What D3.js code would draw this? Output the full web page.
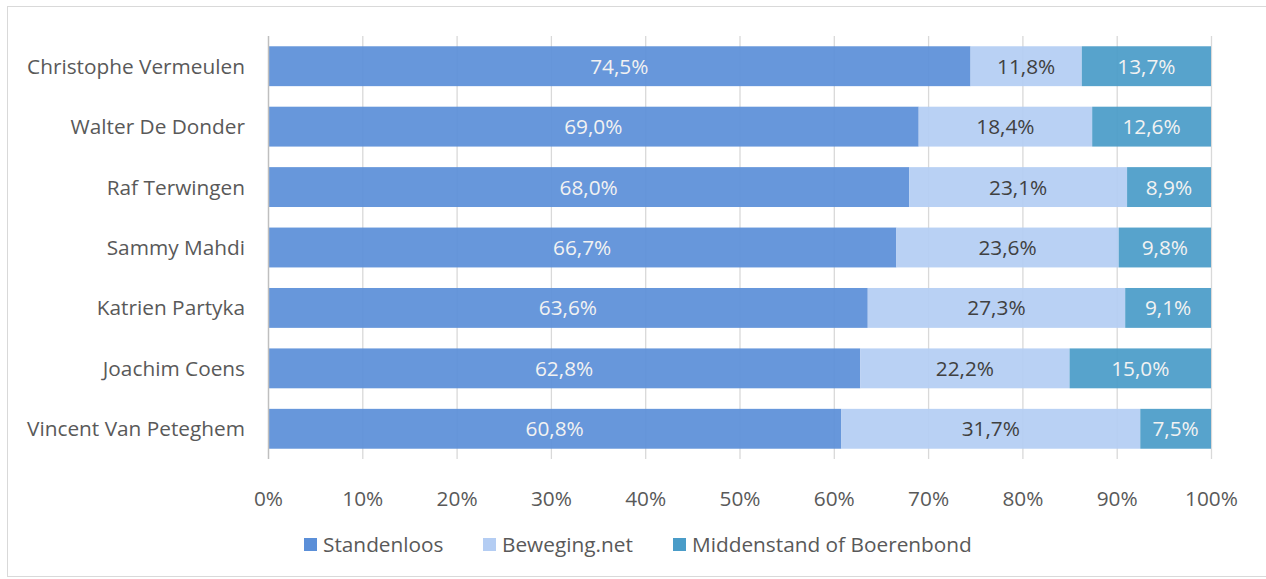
<!DOCTYPE html>
<html>
<head>
<meta charset="utf-8">
<script src="https://cdn.jsdelivr.net/npm/d3@7"></script>
<style>
  body { margin: 0; background: #fff; }
  svg { display: block; font-family: "Open Sans", Lato, sans-serif; }
</style>
</head>
<body>
<svg id="chart" width="1266" height="579"></svg>
<script>
// data
const names = ["Christophe Vermeulen", "Walter De Donder", "Raf Terwingen", "Sammy Mahdi",
               "Katrien Partyka", "Joachim Coens", "Vincent Van Peteghem"];
const seriesNames = ["Standenloos", "Beweging.net", "Middenstand of Boerenbond"];
const standenloos = [74.5, 69.0, 68.0, 66.7, 63.6, 62.8, 60.8];
const beweging = [11.8, 18.4, 23.1, 23.6, 27.3, 22.2, 31.7];
const middenstand = [13.7, 12.6, 8.9, 9.8, 9.1, 15.0, 7.5];
const ticks = [0, 0.1, 0.2, 0.3, 0.4, 0.5, 0.6, 0.7, 0.8, 0.9, 1];

const colors = ["#5b8fd8", "#b4cdf3", "#4a9cc8"];
const labelColors = ["#f2f2f2", "#404040", "#f2f2f2"];
const fontSize = 20.8;

const rows = names.map((n, i) => ({
    name: n,
    "Standenloos": standenloos[i],
    "Beweging.net": beweging[i],
    "Middenstand of Boerenbond": middenstand[i]
}));

const margin = { top: 36, left: 268, right: 55, bottom: 120 };
const W = 1266, H = 579;

const svg = d3.select("#chart");

// outer frame
svg.append("rect")
    .attr("x", 7.5).attr("y", 6.5)
    .attr("width", 1270).attr("height", 570)
    .attr("fill", "none").attr("stroke", "#d9d9d9");

const x = d3.scaleLinear().domain([0, 1]).range([margin.left, W - margin.right]);
const y = d3.scaleBand().domain(names).range([margin.top, H - margin.bottom]).paddingInner(0.34).paddingOuter(0.17);

const stacked = d3.stack().keys(seriesNames).offset(d3.stackOffsetExpand)(rows);

// vertical gridlines
svg.append("g")
    .selectAll("line")
    .data(ticks.slice(1))
    .join("line")
    .attr("x1", d => x(d) + 0.5).attr("x2", d => x(d) + 0.5)
    .attr("y1", margin.top).attr("y2", H - margin.bottom)
    .attr("stroke", "#d9d9d9").attr("stroke-width", 1.3);

// bars
const layer = svg.append("g").selectAll("g")
    .data(stacked)
    .join("g")
    .attr("fill", (d, i) => colors[i])
    .attr("fill-opacity", 0.93);

layer.selectAll("rect")
    .data(d => d)
    .join("rect")
    .attr("x", d => x(d[0]))
    .attr("y", d => y(d.data.name))
    .attr("width", d => x(d[1]) - x(d[0]))
    .attr("height", y.bandwidth());

// data labels
stacked.forEach((s, i) => {
    svg.append("g").selectAll("text")
        .data(s)
        .join("text")
        .attr("x", d => (x(d[0]) + x(d[1])) / 2)
        .attr("y", d => y(d.data.name) + y.bandwidth() / 2)
        .attr("dy", "0.36em")
        .attr("text-anchor", "middle")
        .attr("font-size", fontSize)
        .attr("fill", labelColors[i])
        .text(d => d3.format(".1f")(d.data[s.key]).replace(".", ",") + "%");
});

// category axis line
svg.append("line")
    .attr("x1", x(0) + 0.5).attr("x2", x(0) + 0.5)
    .attr("y1", margin.top).attr("y2", H - margin.bottom)
    .attr("stroke", "#bfbfbf").attr("stroke-width", 1.5);

// category labels
svg.append("g").selectAll("text")
    .data(names)
    .join("text")
    .attr("x", x(0) - 23)
    .attr("y", d => y(d) + y.bandwidth() / 2)
    .attr("dy", "0.36em")
    .attr("text-anchor", "end")
    .attr("font-size", fontSize)
    .attr("fill", "#595959")
    .text(d => d);

// value axis labels
const xAxis = svg.append("g")
    .attr("transform", `translate(0,${H - margin.bottom})`)
    .call(d3.axisBottom(x).tickValues(ticks).tickFormat(d3.format(".0%")).tickSize(0).tickPadding(32));
xAxis.select(".domain").remove();
xAxis.selectAll("text")
    .attr("font-family", "'Open Sans', Lato, sans-serif")
    .attr("font-size", fontSize)
    .attr("fill", "#595959");

// legend
const legendX = [304, 483, 673];
const legend = svg.append("g").selectAll("g")
    .data(seriesNames)
    .join("g")
    .attr("transform", (d, i) => `translate(${legendX[i]},538)`);
legend.append("rect")
    .attr("width", 13).attr("height", 13)
    .attr("fill", (d, i) => colors[i]);
legend.append("text")
    .attr("x", 19).attr("y", 6.5)
    .attr("dy", "0.36em")
    .attr("font-size", fontSize)
    .attr("fill", "#595959")
    .text(d => d);
</script>
</body>
</html>
